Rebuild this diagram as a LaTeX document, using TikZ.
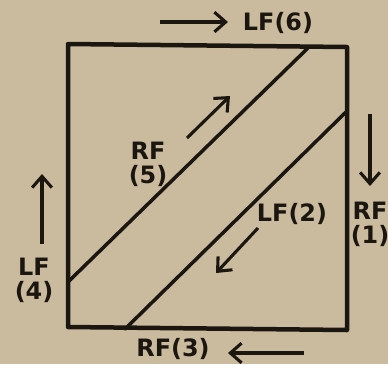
\documentclass[tikz,border=0pt]{standalone}
\usepackage{fontspec}
\setmainfont{DejaVu Sans}
\usetikzlibrary{arrows.meta}
\definecolor{paper}{RGB}{202,187,158}
\definecolor{ink}{RGB}{28,22,16}

\begin{document}
\begin{tikzpicture}[x=0.025cm, y=-0.025cm,
    every node/.style={font=\bfseries\fontsize{17}{17}\selectfont, text=ink, align=center, inner sep=0pt},
    frame/.style={draw=ink, line width=3.2pt, line join=round},
    ray/.style={draw=ink, line width=2.5pt, line cap=round},
    a/.style={-{Straight Barb[length=8pt, width=14pt, line width=2.2pt]}, draw=ink, line width=2.2pt}
]
\fill[paper] (0,0) rectangle (388,364);
\useasboundingbox (0,0) rectangle (388,364);
% square and the two diagonals
\coordinate (tl) at (68,44);
\coordinate (tr) at (347,47);
\coordinate (br) at (347,330);
\coordinate (bl) at (68,327);
\draw[frame] (tl) -- (tr) -- (br) -- (bl) -- cycle;
\coordinate (u1) at (309,47);
\coordinate (u2) at (69,281);
\coordinate (l1) at (346,112);
\coordinate (l2) at (125,329);
\draw[ray] (u1) -- (u2);
\draw[ray] (l1) -- (l2);
% labels
\node (lf6) at (278,23) {LF(6)};
\node (rf1) at (370,224) {RF\\(1)};
\node (lf4) at (34,280) {LF\\(4)};
\node (rf3) at (173,349) {RF(3)};
\node (rf5) at (148,164) {RF\\(5)};
\node (lf2) at (292,214) {LF(2)};
% direction arrows
\coordinate (t0) at (160,22);  \coordinate (t1) at (228,22);
\coordinate (r0) at (370,114); \coordinate (r1) at (370,186);
\coordinate (b0) at (304,353); \coordinate (b1) at (228,353);
\coordinate (s0) at (42,244);  \coordinate (s1) at (42,174);
\coordinate (p0) at (187,138); \coordinate (p1) at (230,96);
\coordinate (q0) at (258,228); \coordinate (q1) at (216,273);
\draw[a] (t0) -- (t1);
\draw[a] (r0) -- (r1);
\draw[a] (b0) -- (b1);
\draw[a] (s0) -- (s1);
\draw[a] (p0) -- (p1);
\draw[a] (q0) -- (q1);
\end{tikzpicture}
\end{document}
